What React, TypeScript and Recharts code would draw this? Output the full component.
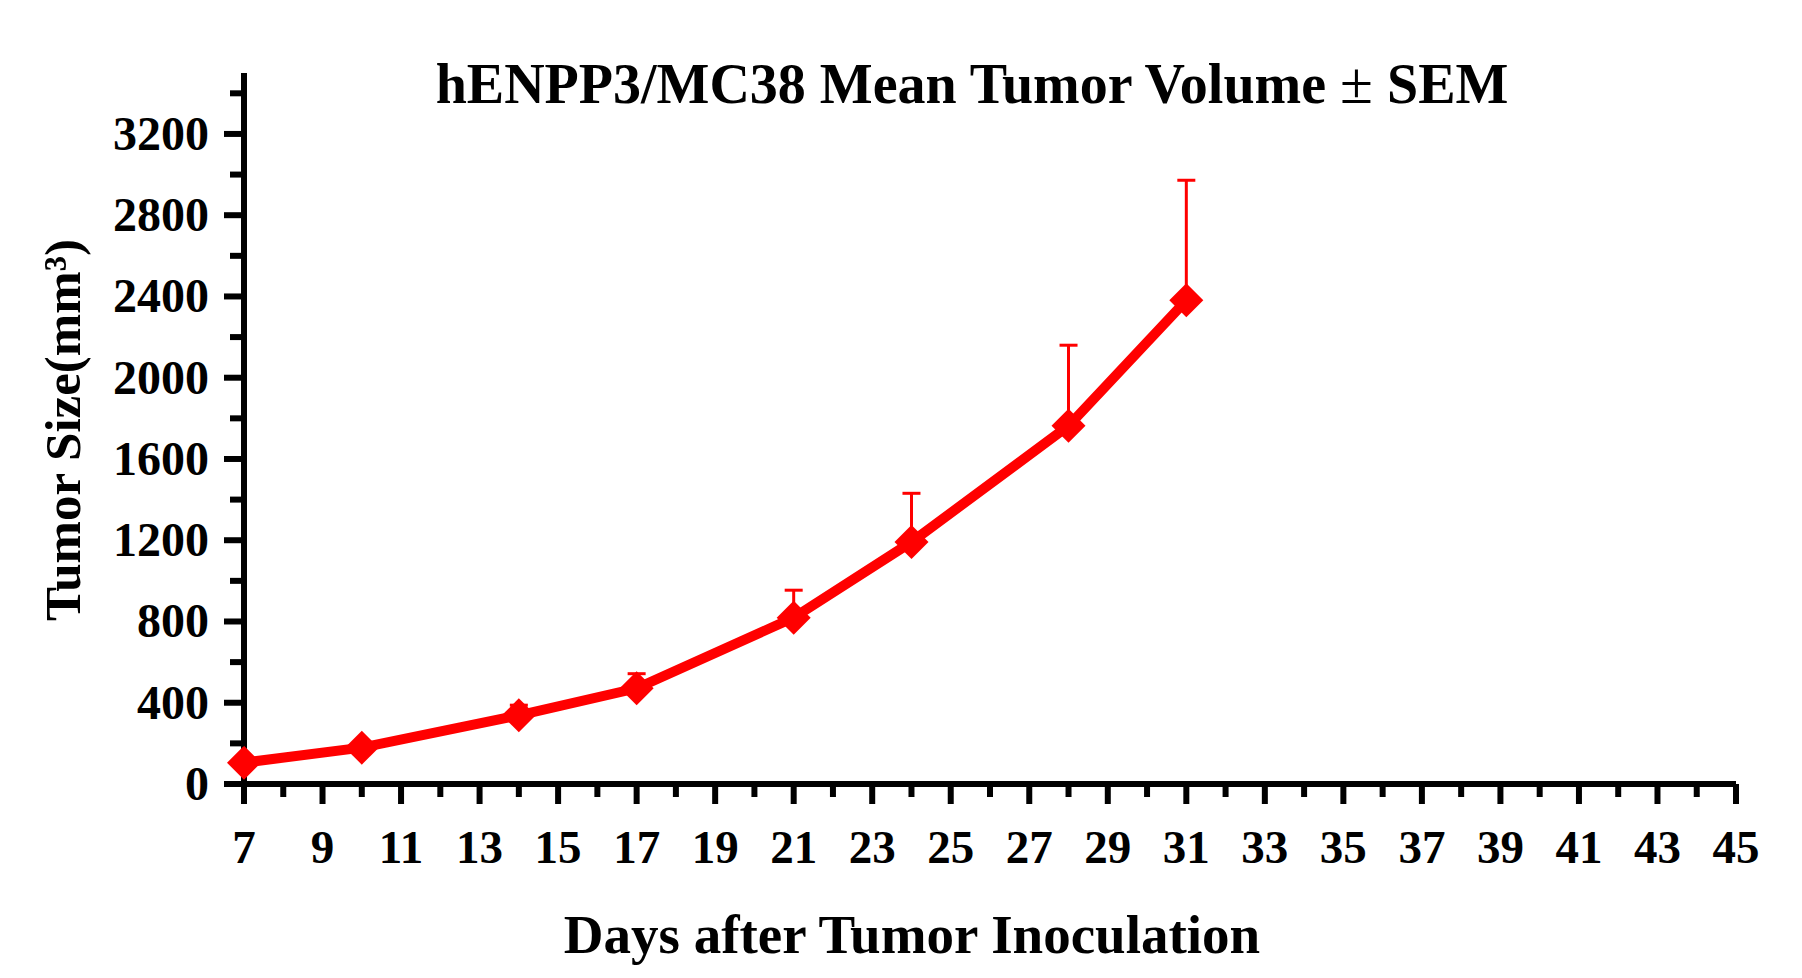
import { LineChart, Line, XAxis, YAxis, ErrorBar } from "recharts"

// days after inoculation and mean tumour volume (mm3) ± SEM (upper bar only)
const days = [7, 10, 14, 17, 21, 24, 28, 31]
const meanVolume = [105, 179, 338, 471, 819, 1191, 1763, 2381]
const semVolume = [14, 22, 50, 72, 135, 240, 397, 591]

const xLabelTicks = [7, 9, 11, 13, 15, 17, 19, 21, 23, 25, 27, 29, 31, 33, 35, 37, 39, 41, 43, 45]
const xMinorTicks = [8, 10, 12, 14, 16, 18, 20, 22, 24, 26, 28, 30, 32, 34, 36, 38, 40, 42, 44]
const yLabelTicks = [0, 400, 800, 1200, 1600, 2000, 2400, 2800, 3200]
const yMinorTicks = [200, 600, 1000, 1400, 1800, 2200, 2600, 3000, 3400]

const FONT = '"Liberation Serif", "Times New Roman", serif'
const RED = "#ff0000"

const chartData = days.map((d, i) => ({
  day: d,
  mean: meanVolume[i],
  err: [0, semVolume[i]],
}))

function XTick({ x, y, payload }: any) {
  const major = xLabelTicks.includes(payload.value)
  return (
    <g>
      <line x1={x} x2={x} y1={y} y2={y + (major ? 20 : 13)} stroke="#000" strokeWidth={6} />
      {major && (
        <text x={x} y={y + 79} textAnchor="middle" fontFamily={FONT} fontWeight="bold" fontSize={47} fill="#000">
          {payload.value}
        </text>
      )}
    </g>
  )
}

function YTick({ x, y, payload }: any) {
  const major = yLabelTicks.includes(payload.value)
  return (
    <g>
      <line x1={x - (major ? 20 : 14)} x2={x} y1={y} y2={y} stroke="#000" strokeWidth={6} />
      {major && (
        <text x={x - 35} y={y + 16} textAnchor="end" fontFamily={FONT} fontWeight="bold" fontSize={48} fill="#000">
          {payload.value}
        </text>
      )}
    </g>
  )
}

function Diamond({ cx, cy }: any) {
  if (cx == null || cy == null) return null
  const r = 17
  return (
    <polygon
      points={`${cx},${cy - r} ${cx + r},${cy} ${cx},${cy + r} ${cx - r},${cy}`}
      fill={RED}
      stroke="none"
    />
  )
}

export default function App() {
  return (
    <div style={{ position: "absolute", left: 0, top: 0, width: 1802, height: 978, background: "#fff" }}>
      <LineChart
        width={1802}
        height={978}
        data={chartData}
        margin={{ top: 73, right: 66, bottom: 44, left: 64 }}
      >
        <XAxis
          dataKey="day"
          type="number"
          domain={[7, 45]}
          ticks={[...xLabelTicks, ...xMinorTicks]}
          interval={0}
          height={150}
          tickSize={0}
          tickMargin={0}
          tick={<XTick />}
          axisLine={{ stroke: "#000", strokeWidth: 6 }}
          tickLine={false}
        />
        <YAxis
          type="number"
          domain={[0, 3500]}
          ticks={[...yLabelTicks, ...yMinorTicks]}
          interval={0}
          width={180}
          tickSize={0}
          tickMargin={0}
          tick={<YTick />}
          axisLine={{ stroke: "#000", strokeWidth: 6 }}
          tickLine={false}
        />
        <Line
          type="linear"
          dataKey="mean"
          stroke={RED}
          strokeWidth={10}
          dot={(p: any) => <Diamond key={p.index} {...p} />}
          activeDot={false}
          isAnimationActive={false}
        >
          <ErrorBar dataKey="err" direction="y" width={9} stroke={RED} strokeWidth={3} isAnimationActive={false} />
        </Line>
        <text x={972} y={103} textAnchor="middle" fontFamily={FONT} fontWeight="bold" fontSize={56} fill="#000">
          hENPP3/MC38 Mean Tumor Volume <tspan fontWeight="normal" fontSize={60}>±</tspan> SEM
        </text>
        <text x={912} y={953} textAnchor="middle" fontFamily={FONT} fontWeight="bold" fontSize={55} fill="#000">
          Days after Tumor Inoculation
        </text>
        <text
          x={80}
          y={430}
          transform="rotate(-90 80 430)"
          textAnchor="middle"
          fontFamily={FONT}
          fontWeight="bold"
          fontSize={51}
          fill="#000"
        >
          Tumor Size(mm³)
        </text>
      </LineChart>
    </div>
  )
}
